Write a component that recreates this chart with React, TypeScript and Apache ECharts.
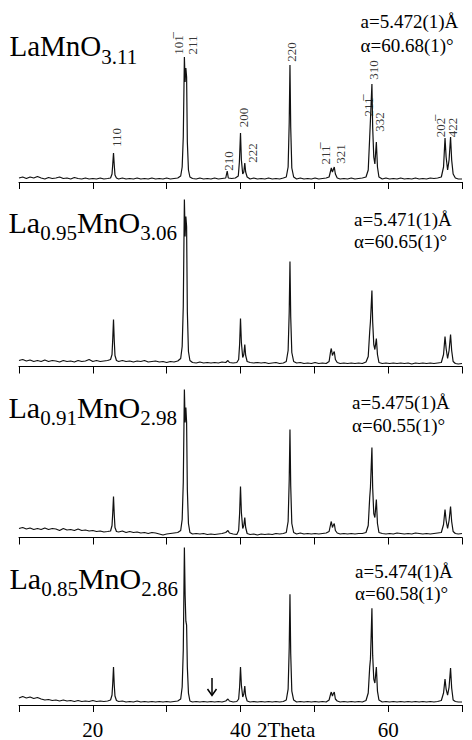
import React, { useEffect, useRef } from "react";
import * as echarts from "echarts";

// 2Theta range and tick values
const xMin = 10;
const xMax = 70;
const tickStep = 10;
const labelValues = [20, 40, 60];

// Traces: [2Theta, intensity (arbitrary units above the axis line)]
const p1Trace: number[][] = [
  [10.0, 4], [10.5, 5], [11.0, 3.5], [11.5, 5], [12.0, 4], [12.5, 5.5], [13.0, 4], [13.5, 3], [14.0, 4.5], [14.5, 3.5],
  [15.0, 4], [15.5, 5], [16.0, 3.5], [16.5, 4], [17.0, 3], [17.5, 4.5], [18.0, 3.5], [18.5, 3], [19.0, 4], [19.5, 3],
  [20.0, 3.5], [20.5, 3], [21.0, 4], [21.5, 3], [22.0, 3.5], [22.4, 4],
  [22.6, 8], [22.7, 18], [22.8, 29], [22.9, 17], [23.0, 7], [23.2, 4],
  [23.5, 3], [24.0, 4], [24.5, 3], [25.0, 3.5], [25.5, 3], [26.0, 4], [26.5, 3], [27.0, 3.5], [27.5, 3], [28.0, 4],
  [28.5, 3], [29.0, 3.5], [29.5, 3], [30.0, 4], [30.5, 3], [31.0, 3.5], [31.5, 4], [31.9, 6],
  [32.1, 15], [32.25, 45], [32.4, 125], [32.5, 100], [32.6, 114], [32.7, 105], [32.8, 40], [32.95, 12], [33.15, 5],
  [33.5, 3.5], [34.0, 3], [34.5, 4], [35.0, 3], [35.5, 3.5], [36.0, 3], [36.5, 4], [37.0, 3], [37.5, 3.5], [38.0, 4],
  [38.2, 11], [38.35, 4], [38.8, 3.5], [39.3, 4], [39.7, 6],
  [39.85, 20], [40.0, 49], [40.12, 22], [40.3, 8], [40.45, 10], [40.58, 19], [40.7, 10], [40.9, 5],
  [41.3, 3], [41.8, 4], [42.3, 3], [42.8, 3.5], [43.3, 3], [43.8, 4], [44.3, 3], [44.8, 3.5], [45.3, 3], [45.8, 4],
  [46.2, 5], [46.45, 15], [46.6, 60], [46.7, 117], [46.8, 55], [46.95, 14], [47.2, 5],
  [47.6, 3], [48.1, 4], [48.6, 3], [49.1, 3.5], [49.6, 3], [50.1, 4], [50.6, 3], [51.1, 3.5], [51.6, 4], [52.0, 5],
  [52.2, 11], [52.3, 14], [52.45, 10], [52.55, 12], [52.7, 15], [52.85, 8], [53.1, 4],
  [53.5, 3], [54.0, 3.5], [54.5, 3], [55.0, 4], [55.5, 3], [56.0, 3.5], [56.5, 4], [57.0, 5],
  [57.3, 12], [57.5, 45], [57.6, 62], [57.7, 80], [57.8, 98], [57.9, 55], [58.05, 25], [58.2, 18], [58.4, 40], [58.55, 15], [58.75, 5],
  [59.2, 3], [59.7, 4], [60.2, 3], [60.7, 3.5], [61.2, 3], [61.7, 4], [62.2, 3], [62.7, 3.5], [63.2, 3], [63.7, 4],
  [64.2, 3], [64.7, 3.5], [65.2, 3], [65.7, 4], [66.2, 3.5], [66.7, 4], [67.2, 5],
  [67.5, 15], [67.7, 44], [67.85, 25], [68.05, 12], [68.25, 22], [68.45, 45], [68.6, 22], [68.8, 8], [69.1, 4], [69.5, 3], [70.0, 3],
];

const p2Trace: number[][] = [
  [10.0, 6], [10.5, 7], [11.0, 5.5], [11.5, 6.5], [12.0, 5], [12.5, 6], [13.0, 5], [13.5, 6.5], [14.0, 5], [14.5, 6],
  [15.0, 5.5], [15.5, 4.5], [16.0, 6], [16.5, 5], [17.0, 5.5], [17.5, 4.5], [18.0, 6], [18.5, 5], [19.0, 5.5], [19.5, 7],
  [20.0, 5], [20.5, 6], [21.0, 5], [21.5, 5.5], [22.0, 6], [22.4, 7],
  [22.6, 12], [22.7, 28], [22.8, 47], [22.9, 26], [23.0, 11], [23.2, 6],
  [23.5, 5], [24.0, 6], [24.5, 5], [25.0, 5.5], [25.5, 4.5], [26.0, 5.5], [26.5, 5], [27.0, 6], [27.5, 4.5], [28.0, 5],
  [28.5, 5.5], [29.0, 4.5], [29.5, 5], [30.0, 4], [30.5, 5], [31.0, 4.5], [31.5, 5.5], [31.9, 8],
  [32.1, 20], [32.25, 60], [32.4, 167], [32.5, 130], [32.6, 150], [32.7, 140], [32.8, 55], [32.95, 15], [33.15, 6],
  [33.5, 4], [34.0, 3.5], [34.5, 4.5], [35.0, 3.5], [35.5, 4], [36.0, 3.5], [36.5, 4], [37.0, 3.5], [37.5, 4.5], [38.0, 4],
  [38.3, 6], [38.5, 4], [39.0, 3.5], [39.5, 4], [39.75, 7],
  [39.88, 22], [40.0, 48], [40.12, 24], [40.3, 9], [40.45, 12], [40.58, 22], [40.7, 11], [40.9, 5],
  [41.3, 4], [41.8, 3.5], [42.3, 4], [42.8, 3.5], [43.3, 4], [43.8, 3], [44.3, 3.5], [44.8, 4], [45.3, 3], [45.8, 3.5],
  [46.2, 5], [46.45, 16], [46.6, 55], [46.7, 105], [46.8, 50], [46.95, 14], [47.2, 5],
  [47.6, 3.5], [48.1, 4], [48.6, 3], [49.1, 3.5], [49.6, 3], [50.1, 4], [50.6, 3], [51.1, 3.5], [51.6, 3], [52.0, 5],
  [52.2, 15], [52.3, 18], [52.45, 11], [52.55, 13], [52.7, 15], [52.85, 7], [53.1, 4],
  [53.5, 3], [54.0, 3.5], [54.5, 3], [55.0, 3.5], [55.5, 3], [56.0, 3.5], [56.5, 3], [57.0, 4.5],
  [57.3, 10], [57.5, 35], [57.6, 45], [57.7, 60], [57.8, 76], [57.9, 45], [58.05, 22], [58.2, 17], [58.4, 28], [58.55, 12], [58.75, 4],
  [59.2, 3], [59.7, 3.5], [60.2, 3], [60.7, 3.5], [61.2, 3], [61.7, 3.5], [62.2, 3], [62.7, 3.5], [63.2, 2.5], [63.7, 3.5],
  [64.2, 3], [64.7, 3.5], [65.2, 3], [65.7, 3.5], [66.2, 3], [66.7, 3.5], [67.2, 4],
  [67.5, 12], [67.7, 30], [67.85, 18], [68.05, 8], [68.25, 16], [68.45, 32], [68.6, 16], [68.8, 5], [69.1, 3], [69.5, 2.5], [70.0, 3],
];

const p3Trace: number[][] = [
  [10.0, 9], [10.5, 10], [11.0, 8.5], [11.5, 9.5], [12.0, 8], [12.5, 9], [13.0, 8], [13.5, 9.5], [14.0, 8], [14.5, 9],
  [15.0, 8.5], [15.5, 7], [16.0, 9], [16.5, 7.5], [17.0, 8], [17.5, 7], [18.0, 8.5], [18.5, 7], [19.0, 7.5], [19.5, 6.5],
  [20.0, 7], [20.5, 6], [21.0, 6.5], [21.5, 5.5], [22.0, 6], [22.4, 6.5],
  [22.6, 12], [22.7, 25], [22.8, 41], [22.9, 23], [23.0, 10], [23.2, 6],
  [23.5, 5.5], [24.0, 6.5], [24.5, 5], [25.0, 6], [25.5, 5], [26.0, 5.5], [26.5, 4.5], [27.0, 5], [27.5, 4], [28.0, 5],
  [28.5, 4.5], [29.0, 3.5], [29.5, 2.5], [30.0, 3.5], [30.5, 4], [31.0, 4.5], [31.5, 5], [31.9, 7],
  [32.1, 18], [32.25, 55], [32.4, 148], [32.5, 115], [32.6, 130], [32.7, 115], [32.8, 48], [32.95, 14], [33.15, 5],
  [33.5, 3.5], [34.0, 4], [34.5, 3.5], [35.0, 4], [35.5, 3], [36.0, 3.5], [36.5, 3], [37.0, 3.5], [37.5, 4], [38.0, 5],
  [38.3, 7], [38.5, 4.5], [39.0, 3.5], [39.5, 3], [39.75, 7],
  [39.88, 24], [40.0, 51], [40.12, 25], [40.3, 9], [40.45, 12], [40.58, 20], [40.7, 10], [40.9, 4],
  [41.3, 3], [41.8, 3.5], [42.3, 2.5], [42.8, 3.5], [43.3, 3], [43.8, 3.5], [44.3, 3], [44.8, 4], [45.3, 3.5], [45.8, 4],
  [46.2, 5], [46.45, 16], [46.6, 58], [46.7, 108], [46.8, 52], [46.95, 14], [47.2, 5],
  [47.6, 3.5], [48.1, 4.5], [48.6, 3.5], [49.1, 4], [49.6, 3.5], [50.1, 4], [50.6, 3.5], [51.1, 4], [51.6, 4.5], [52.0, 6],
  [52.2, 13], [52.3, 16], [52.45, 10], [52.55, 12], [52.7, 14], [52.85, 7], [53.1, 4.5],
  [53.5, 3.5], [54.0, 4], [54.5, 3.5], [55.0, 4], [55.5, 3.5], [56.0, 4], [56.5, 4], [57.0, 5],
  [57.3, 12], [57.5, 40], [57.6, 50], [57.7, 70], [57.8, 90], [57.9, 50], [58.05, 24], [58.2, 20], [58.4, 38], [58.55, 14], [58.75, 5],
  [59.2, 4], [59.7, 3.5], [60.2, 4], [60.7, 3.5], [61.2, 4.5], [61.7, 4], [62.2, 3.5], [62.7, 4], [63.2, 3.5], [63.7, 4.5],
  [64.2, 4], [64.7, 3.5], [65.2, 4], [65.7, 3.5], [66.2, 4], [66.7, 4.5], [67.2, 5],
  [67.5, 13], [67.7, 28], [67.85, 17], [68.05, 9], [68.25, 17], [68.45, 31], [68.6, 16], [68.8, 6], [69.1, 4], [69.5, 3.5], [70.0, 4],
];

const p4Trace: number[][] = [
  [10.0, 7], [10.5, 8.5], [11.0, 7], [11.5, 8], [12.0, 6.5], [12.5, 7.5], [13.0, 6], [13.5, 5], [14.0, 5.5], [14.5, 4.5],
  [15.0, 5], [15.5, 4], [16.0, 5], [16.5, 4], [17.0, 4.5], [17.5, 3.5], [18.0, 4.5], [18.5, 3.5], [19.0, 4], [19.5, 3.5],
  [20.0, 4.5], [20.5, 3.5], [21.0, 4], [21.5, 3.5], [22.0, 4], [22.4, 5],
  [22.6, 10], [22.7, 22], [22.8, 38], [22.9, 20], [23.0, 9], [23.2, 4.5],
  [23.5, 3.5], [24.0, 4], [24.5, 3], [25.0, 3.5], [25.5, 3], [26.0, 4], [26.5, 3], [27.0, 3.5], [27.5, 3], [28.0, 3.5],
  [28.5, 3], [29.0, 3.5], [29.5, 3], [30.0, 3.5], [30.5, 3], [31.0, 3.5], [31.5, 4], [31.9, 6],
  [32.1, 18], [32.25, 55], [32.4, 158], [32.5, 110], [32.6, 84], [32.7, 80], [32.8, 38], [32.95, 12], [33.15, 4],
  [33.5, 3], [34.0, 3.5], [34.5, 3], [35.0, 3.5], [35.5, 3], [36.0, 3.5], [36.5, 3], [37.0, 3.5], [37.5, 3], [38.0, 4],
  [38.3, 6], [38.5, 4], [39.0, 3], [39.5, 3.5], [39.75, 6],
  [39.88, 18], [40.0, 38], [40.12, 20], [40.3, 8], [40.45, 11], [40.58, 19], [40.7, 9], [40.9, 4],
  [41.3, 3], [41.8, 3.5], [42.3, 3], [42.8, 3.5], [43.3, 3], [43.8, 3.5], [44.3, 3], [44.8, 3.5], [45.3, 3], [45.8, 3.5],
  [46.2, 5], [46.45, 16], [46.6, 58], [46.7, 111], [46.8, 52], [46.95, 14], [47.2, 5],
  [47.6, 3], [48.1, 3.5], [48.6, 3], [49.1, 3.5], [49.6, 3], [50.1, 3.5], [50.6, 3], [51.1, 3.5], [51.6, 3], [52.0, 5],
  [52.2, 11], [52.3, 13], [52.45, 9], [52.55, 11], [52.7, 13], [52.85, 6], [53.1, 4],
  [53.5, 3], [54.0, 3.5], [54.5, 3], [55.0, 3.5], [55.5, 3], [56.0, 3.5], [56.5, 3], [57.0, 4.5],
  [57.3, 12], [57.5, 38], [57.6, 46], [57.7, 70], [57.8, 97], [57.9, 50], [58.05, 26], [58.2, 22], [58.4, 38], [58.55, 14], [58.75, 5],
  [59.2, 3], [59.7, 3.5], [60.2, 3], [60.7, 3.5], [61.2, 3], [61.7, 3.5], [62.2, 3], [62.7, 3.5], [63.2, 3], [63.7, 3.5],
  [64.2, 3], [64.7, 3.5], [65.2, 3], [65.7, 3.5], [66.2, 3], [66.7, 3.5], [67.2, 4.5],
  [67.5, 12], [67.7, 26], [67.85, 16], [68.05, 10], [68.25, 18], [68.45, 37], [68.6, 17], [68.8, 5], [69.1, 3.5], [69.5, 3], [70.0, 3],
];

// Miller index labels of the top pattern: [text, 2Theta of label centre, intensity of label centre]
const OL = "\u0305";
const hklLabels: [string, number, number][] = [
  ["110", 23.19, 44.5],
  ["101" + OL, 31.66, 137],
  ["211", 33.56, 137],
  ["210", 38.44, 21],
  ["200", 40.34, 64.5],
  ["222", 41.69, 29],
  ["220", 46.92, 130],
  ["211" + OL, 51.53, 27],
  ["321", 53.56, 28],
  ["211" + OL, 57.36, 75],
  ["310", 58.03, 112],
  ["332", 58.85, 60],
  ["202" + OL, 67.05, 54.5],
  ["422", 68.68, 54.5],
];

// Composition labels: [main, subscript, main, subscript, ...]
const formulas: string[][] = [
  ["LaMnO", "3.11"],
  ["La", "0.95", "MnO", "3.06"],
  ["La", "0.91", "MnO", "2.98"],
  ["La", "0.85", "MnO", "2.86"],
];
const cellA = ["a=5.472(1)Å", "a=5.471(1)Å", "a=5.475(1)Å", "a=5.474(1)Å"];
const cellAlpha = ["α=60.68(1)°", "α=60.65(1)°", "α=60.55(1)°", "α=60.58(1)°"];
const axisTitle = "2Theta";

const traces = [p1Trace, p2Trace, p3Trace, p4Trace];

const SERIF = "'Liberation Serif', 'Times New Roman', Times, serif";

export default function App() {
  const ref = useRef<HTMLDivElement>(null);

  useEffect(() => {
    const el = ref.current;
    if (!el) return;
    const chart = echarts.init(el, null, { renderer: "svg" });

    const axisY = [182, 366.5, 537.5, 705.5];
    const H = 180;

    const canvas = document.createElement("canvas");
    const ctx = canvas.getContext("2d")!;
    const measure = (t: string, size: number) => {
      ctx.font = `${size}px ${SERIF}`;
      return ctx.measureText(t).width;
    };

    // layout of composition labels (pixels)
    const fBig = [29, 30, 30, 30];
    const fSub = [21, 21, 21, 21];
    const fX = [9.5, 8.5, 8.5, 9.5];
    const fBase = [56, 233, 418, 589];
    const fSubBase = [64, 240, 425, 596];
    const graphics: any[] = [];
    formulas.forEach((tokens, i) => {
      let x = fX[i];
      tokens.forEach((t, k) => {
        const isSub = k % 2 === 1;
        const size = isSub ? fSub[i] : fBig[i];
        const base = isSub ? fSubBase[i] : fBase[i];
        graphics.push({
          type: "text",
          x,
          y: base - 0.3375 * size,
          style: {
            text: t,
            fontSize: size,
            fontFamily: SERIF,
            fill: "#000",
            textAlign: "left",
            verticalAlign: "middle",
          },
        });
        x += measure(t, size);
      });
    });

    const cX = [360.5, 354, 352, 355];
    const cY1 = [21.5, 219.5, 402.5, 571];
    const cY2 = [45, 241, 425, 593.5];
    for (let i = 0; i < 4; i++) {
      [
        [cellA[i], cY1[i]],
        [cellAlpha[i], cY2[i]],
      ].forEach(([t, y]) => {
        graphics.push({
          type: "text",
          x: cX[i],
          y,
          style: {
            text: t,
            fontSize: 19,
            fontFamily: SERIF,
            fill: "#000",
            textAlign: "left",
            verticalAlign: "middle",
          },
        });
      });
    }

    graphics.push({
      type: "text",
      x: 257,
      y: 729.5,
      style: {
        text: axisTitle,
        fontSize: 21,
        fontFamily: SERIF,
        fill: "#000",
        textAlign: "left",
        verticalAlign: "middle",
      },
    });

    // arrow in bottom pattern
    graphics.push({
      type: "line",
      shape: { x1: 212, y1: 678, x2: 212, y2: 695 },
      style: { stroke: "#000", lineWidth: 1.5 },
    });
    graphics.push({
      type: "polyline",
      shape: { points: [[207.5, 689], [212, 695.5], [216.5, 689]] },
      style: { stroke: "#000", lineWidth: 1.5, fill: "none" },
    });

    const grids = axisY.map((a) => ({ left: 19, right: 10, top: a - H, height: H }));

    const xAxes = traces.map((_, i) => ({
      type: "value",
      gridIndex: i,
      min: xMin,
      max: xMax,
      interval: tickStep,
      axisLine: { show: true, onZero: false, lineStyle: { color: "#000", width: 1 } },
      axisTick: {
        show: true,
        inside: false,
        length: 7,
        lineStyle: { color: "#000", width: 1 },
      },
      axisLabel: {
        show: i === 3,
        customValues: labelValues,
        color: "#000",
        fontSize: 21,
        fontFamily: SERIF,
        margin: 14,
      },
      splitLine: { show: false },
    }));

    const yAxes = traces.map((_, i) => ({
      type: "value",
      gridIndex: i,
      min: 0,
      max: H,
      show: false,
      splitLine: { show: false },
    }));

    const series: any[] = traces.map((tr, i) => ({
      type: "line",
      xAxisIndex: i,
      yAxisIndex: i,
      data: tr,
      symbol: "none",
      showSymbol: false,
      clip: false,
      lineStyle: { color: "#111", width: 1.2 },
      silent: true,
    }));

    series.push({
      type: "scatter",
      xAxisIndex: 0,
      yAxisIndex: 0,
      data: hklLabels.map(([t, x, y]) => [x, y, t]),
      symbolSize: 1,
      itemStyle: { color: "rgba(0,0,0,0)" },
      silent: true,
      label: {
        show: true,
        position: "inside",
        rotate: 90,
        formatter: (p: any) => p.value[2],
        fontSize: 13,
        fontFamily: SERIF,
        color: "#000",
      },
    });

    chart.setOption({
      animation: false,
      backgroundColor: "#fff",
      grid: grids,
      xAxis: xAxes,
      yAxis: yAxes,
      series,
      graphic: graphics,
    });

    return () => {
      chart.dispose();
    };
  }, []);

  return (
    <div
      ref={ref}
      style={{ position: "fixed", left: 0, top: 0, width: 472, height: 740, background: "#fff" }}
    />
  );
}
